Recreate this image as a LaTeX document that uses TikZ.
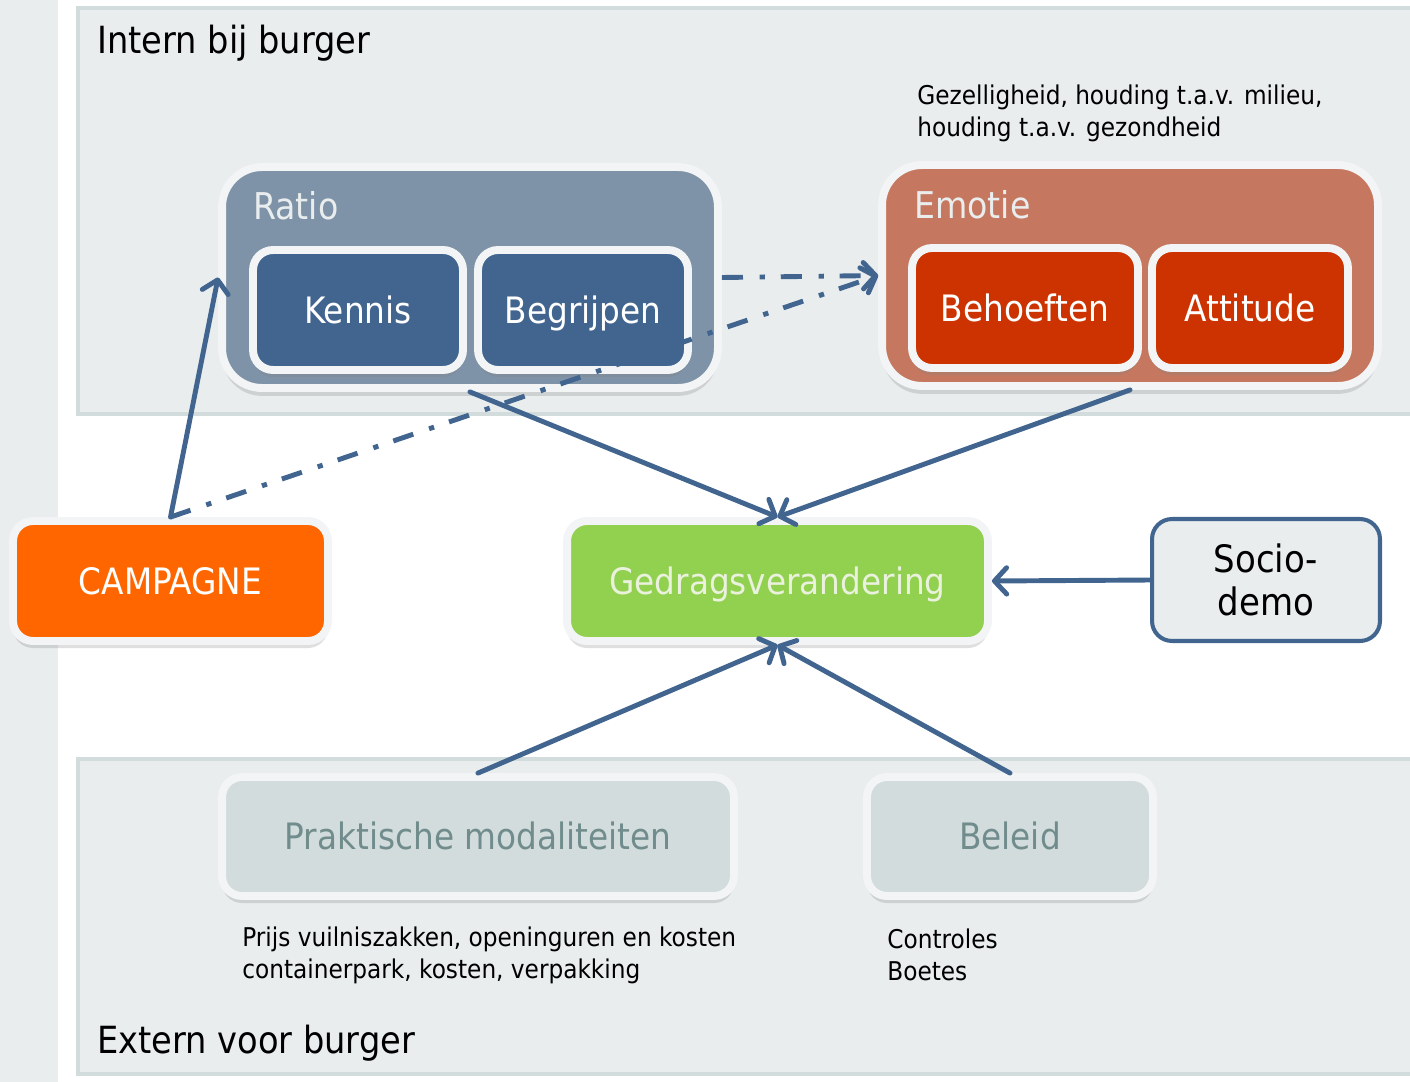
\documentclass[tikz,border=0pt]{standalone}
\usepackage{fontspec}
\setmainfont{DejaVu Sans Condensed}
\usetikzlibrary{arrows.meta, positioning, shadows}

\definecolor{panelbg}{HTML}{E9EDEE}
\definecolor{panelline}{HTML}{D3DCDC}
\definecolor{ratioblue}{HTML}{7F93A8}
\definecolor{darkblue}{HTML}{41658F}
\definecolor{emotiered}{HTML}{C5785F}
\definecolor{brickred}{HTML}{CC3300}
\definecolor{campagneorange}{HTML}{FF6600}
\definecolor{gedraggreen}{HTML}{92D050}
\definecolor{gedragtext}{HTML}{EAF1DD}
\definecolor{greytext}{HTML}{718C8C}

\begin{document}
\begin{tikzpicture}[x=0.02cm, y=-0.02cm,
    panel/.style={draw=panelline, fill=panelbg, line width=2.3pt},
    outerbox/.style={draw=panelbg!60!white, line width=4.5pt, rounded corners=0.8cm,
      drop shadow={shadow xshift=0pt, shadow yshift=-4.5pt, opacity=0.25}},
    innerbox/.style={draw=panelbg!60!white, line width=4.5pt, rounded corners=0.4cm,
      minimum height=2.4cm, text=white, font=\fontsize{20.7}{25}\selectfont,
      text height=15pt, text depth=0pt,
      drop shadow={shadow xshift=0pt, shadow yshift=-4pt, opacity=0.25}},
    boxlabel/.style={text=panelbg, font=\fontsize{21}{25}\selectfont, inner sep=0pt},
    title/.style={font=\fontsize{21.3}{25}\selectfont, inner sep=0pt, anchor=west},
    note/.style={font=\fontsize{14.7}{18.3}\selectfont, inner sep=0pt, align=left, anchor=west},
    flow/.style={draw=darkblue, line width=2.8pt, line cap=round,
      -{Straight Barb[round, length=7pt, width=15pt]}},
    flowdash/.style={flow, line cap=butt, dash pattern=on 12pt off 9.5pt on 3pt off 9pt}]
  \useasboundingbox (0,0) rectangle (1410,1082);
  \clip (0,0) rectangle (1410,1082);

  % Panels
  \fill[panelbg] (0,0) rectangle (58,1082);
  \draw[panel] (78,8) rectangle (1440,414);
  \draw[panel] (78,759) rectangle (1440,1074);
  \node[title] (intern) at (97,43) {Intern bij burger};
  \node[title] (extern) at (97,1043) {Extern voor burger};

  % Ratio
  \node[outerbox, fill=ratioblue, minimum width=9.92cm, minimum height=4.42cm] (ratio) at (470,277.5) {};
  \node[boxlabel, anchor=west] (ratiolabel) at (253,206) {Ratio};
  \node[innerbox, fill=darkblue, minimum width=4.2cm] (kennis) at (358,310) {Kennis};
  \node[innerbox, fill=darkblue, minimum width=4.2cm] (begrijpen) at (583,310) {Begrijpen};

  % Emotie
  \node[note] (emotienote) at (917,113) {Gezelligheid, houding t.a.v. milieu,\\houding t.a.v. gezondheid};
  \node[outerbox, fill=emotiered, minimum width=9.92cm, minimum height=4.42cm] (emotie) at (1130,275.5) {};
  \node[boxlabel, anchor=west] (emotielabel) at (914,205) {Emotie};
  \node[innerbox, fill=brickred, minimum width=4.52cm] (behoeften) at (1025,308) {Behoeften};
  \node[innerbox, fill=brickred, minimum width=3.92cm] (attitude) at (1250,308) {Attitude};

  % Middle row
  \node[innerbox, fill=campagneorange, minimum width=6.3cm] (campagne) at (170.5,581) {CAMPAGNE};
  \node[innerbox, fill=gedraggreen, minimum width=8.42cm, text=gedragtext] (gedrag) at (777.5,581) {Gedragsverandering};
  \node[draw=darkblue, fill=panelbg, line width=2.3pt, rounded corners=0.4cm,
    minimum width=4.56cm, minimum height=2.44cm, align=center,
    font=\fontsize{21.5}{24.4}\selectfont] (socio) at (1266,580) {Socio-\\demo};

  % Extern
  \node[innerbox, fill=panelline, minimum width=10.24cm, minimum height=2.38cm, text=greytext] (praktisch) at (478,836.5) {Praktische modaliteiten};
  \node[innerbox, fill=panelline, minimum width=5.72cm, minimum height=2.38cm, text=greytext] (beleid) at (1010,836.5) {Beleid};
  \node[note] (praktischnote) at (242,955) {Prijs vuilniszakken, openinguren en kosten\\containerpark, kosten, verpakking};
  \node[note] (beleidnote) at (887,955) {Controles\\Boetes};

  % Arrows
  \draw[flow] (campagne.north) -- (ratio.west);
  \draw[flowdash] (campagne.north) -- (emotie.west);
  \draw[flowdash] (ratio.east) -- (emotie.west);
  \draw[flow] (ratio.south) -- (gedrag.north);
  \draw[flow] (emotie.south) -- (gedrag.north);
  \draw[flow] (socio.west) -- (gedrag.east);
  \draw[flow] (praktisch.north) -- (gedrag.south);
  \draw[flow] (beleid.north) -- (gedrag.south);
\end{tikzpicture}
\end{document}
